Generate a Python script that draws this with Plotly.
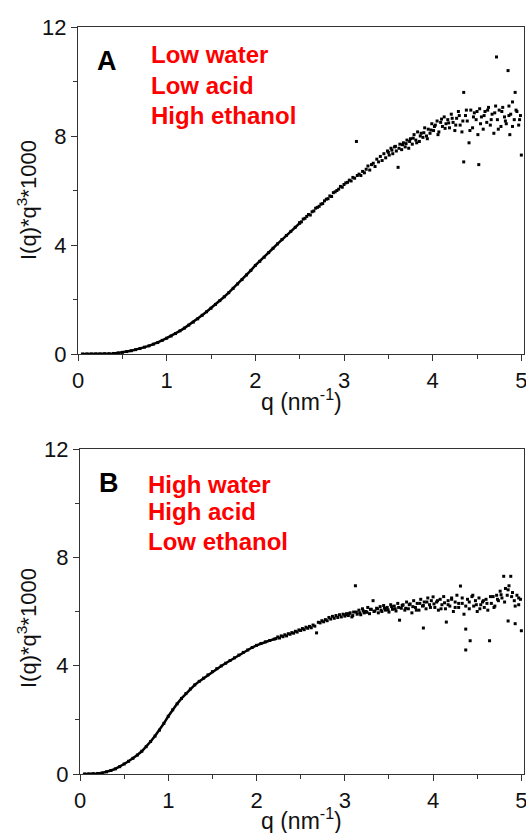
import plotly.graph_objects as go

# ---------------- Panel A data ----------------
qa_dense = [0.05, 0.10, 0.15, 0.20, 0.25, 0.30, 0.35, 0.40, 0.45, 0.50, 0.55, 0.60, 0.65, 0.70, 0.75,
            0.80, 0.85, 0.90, 0.95, 1.00, 1.05, 1.10, 1.15, 1.20, 1.25, 1.30, 1.35, 1.40, 1.45, 1.50,
            1.55, 1.60, 1.65, 1.70, 1.75, 1.80, 1.85, 1.90, 1.95, 2.00, 2.05, 2.10, 2.15, 2.20, 2.25,
            2.30, 2.35, 2.40, 2.45, 2.50]
ia_dense = [0.00, 0.00, 0.00, 0.00, 0.00, 0.01, 0.01, 0.02, 0.04, 0.06, 0.09, 0.12, 0.16, 0.20, 0.25,
            0.30, 0.36, 0.42, 0.50, 0.58, 0.66, 0.75, 0.85, 0.95, 1.06, 1.17, 1.29, 1.42, 1.55, 1.68,
            1.82, 1.96, 2.10, 2.25, 2.41, 2.57, 2.73, 2.90, 3.07, 3.25, 3.40, 3.55, 3.72, 3.88, 4.04,
            4.20, 4.35, 4.50, 4.65, 4.80]

qa_scat = [2.50, 2.52, 2.54, 2.56, 2.58, 2.60, 2.62, 2.64, 2.66, 2.68, 2.70, 2.72, 2.74, 2.76, 2.78,
           2.80, 2.82, 2.84, 2.86, 2.88, 2.90, 2.92, 2.94, 2.96, 2.98, 3.00, 3.02, 3.04, 3.06, 3.08,
           3.10, 3.12, 3.14, 3.15, 3.17, 3.19, 3.21, 3.23, 3.25, 3.27, 3.29, 3.31, 3.33, 3.35, 3.37,
           3.39, 3.41, 3.43, 3.45, 3.47, 3.49, 3.51, 3.53, 3.55, 3.57, 3.59, 3.61, 3.63, 3.65, 3.67,
           3.69, 3.71, 3.73, 3.75, 3.77, 3.79, 3.81, 3.83, 3.85, 3.87, 3.89, 3.91, 3.93, 3.95, 3.97,
           3.99, 4.01, 4.03, 4.05, 4.07, 4.09, 4.11, 4.13, 4.15, 4.17, 4.19, 4.21, 4.23, 4.25, 4.27,
           4.29, 4.31, 4.33, 4.35, 4.35, 4.37, 4.39, 4.41, 4.43, 4.45, 4.47, 4.49, 4.51, 4.52, 4.53,
           4.55, 4.57, 4.59, 4.61, 4.63, 4.65, 4.67, 4.69, 4.71, 4.72, 4.73, 4.75, 4.77, 4.79, 4.81,
           4.83, 4.85, 4.86, 4.87, 4.88, 4.90, 4.92, 4.93, 4.95, 4.97, 4.99, 5.00]
ia_scat = [4.82, 4.85, 4.95, 4.98, 5.05, 5.12, 5.10, 5.22, 5.25, 5.35, 5.38, 5.42, 5.50, 5.52, 5.62,
           5.68, 5.70, 5.80, 5.78, 5.92, 5.95, 6.00, 6.05, 6.15, 6.12, 6.22, 6.28, 6.30, 6.38, 6.35,
           6.48, 6.45, 7.80, 6.55, 6.60, 6.55, 6.70, 6.65, 6.78, 6.90, 6.75, 6.95, 7.00, 6.88, 7.15,
           7.05, 7.25, 7.10, 7.35, 7.20, 7.45, 7.30, 7.55, 7.35, 7.60, 7.45, 6.85, 7.70, 7.50, 7.75,
           7.60, 7.85, 7.55, 7.90, 7.70, 8.05, 7.85, 8.15, 7.80, 8.10, 7.95, 8.30, 8.00, 8.25, 8.10,
           8.45, 8.20, 8.40, 8.55, 8.15, 8.50, 8.35, 8.70, 8.45, 8.60, 8.30, 8.80, 8.50, 8.20, 8.65,
           8.90, 8.40, 8.15, 9.60, 7.05, 8.75, 8.55, 7.75, 8.95, 8.30, 8.85, 8.60, 8.05, 6.95, 9.00,
           8.70, 8.25, 8.90, 8.50, 9.05, 8.40, 8.80, 8.10, 9.10, 10.90, 8.60, 8.95, 8.35, 9.05, 8.70,
           8.45, 10.40, 9.10, 8.05, 8.80, 9.25, 8.60, 9.60, 8.90, 8.40, 8.75, 7.30]

qa_extra = [3.50, 3.54, 3.58, 3.62, 3.66, 3.70, 3.74, 3.78, 3.82, 3.86, 3.90, 3.94, 3.98, 4.02, 4.06,
            4.10, 4.14, 4.18, 4.22, 4.26, 4.30, 4.34, 4.38, 4.42, 4.46, 4.50, 4.54, 4.58, 4.62, 4.66,
            4.70, 4.74, 4.78, 4.82, 4.86, 4.90, 4.94, 4.98]
ia_extra = [7.40, 7.48, 7.62, 7.55, 7.68, 7.72, 7.80, 7.92, 7.75, 8.00, 8.12, 7.90, 8.22, 8.35, 8.05,
            8.62, 8.28, 8.48, 8.65, 8.40, 8.75, 8.55, 8.95, 8.20, 8.70, 8.90, 8.45, 8.75, 8.95, 8.60,
            8.85, 8.25, 8.90, 8.55, 8.75, 8.35, 8.95, 8.60]

# ---------------- Panel B data ----------------
qb_dense = [0.05, 0.10, 0.15, 0.20, 0.25, 0.30, 0.35, 0.40, 0.45, 0.50, 0.55, 0.60, 0.65, 0.70, 0.75,
            0.80, 0.85, 0.90, 0.95, 1.00, 1.05, 1.10, 1.15, 1.20, 1.25, 1.30, 1.35, 1.40, 1.45, 1.50,
            1.55, 1.60, 1.65, 1.70, 1.75, 1.80, 1.85, 1.90, 1.95, 2.00, 2.05, 2.10, 2.15, 2.20]
ib_dense = [0.00, 0.00, 0.01, 0.02, 0.04, 0.08, 0.13, 0.19, 0.27, 0.37, 0.47, 0.58, 0.70, 0.84, 1.01,
            1.20, 1.40, 1.62, 1.87, 2.13, 2.37, 2.59, 2.79, 2.97, 3.14, 3.29, 3.42, 3.54, 3.66, 3.78,
            3.89, 3.99, 4.09, 4.19, 4.29, 4.39, 4.49, 4.58, 4.67, 4.75, 4.82, 4.88, 4.93, 4.98]

qb_scat = [2.22, 2.24, 2.26, 2.28, 2.30, 2.32, 2.34, 2.36, 2.38, 2.40, 2.42, 2.44, 2.46, 2.48, 2.50,
           2.52, 2.54, 2.56, 2.58, 2.60, 2.62, 2.64, 2.66, 2.68, 2.70, 2.72, 2.74, 2.76, 2.78, 2.80,
           2.82, 2.84, 2.86, 2.88, 2.90, 2.92, 2.94, 2.96, 2.98, 3.00, 3.02, 3.04, 3.06, 3.08, 3.10,
           3.12, 3.14, 3.16, 3.18, 3.20, 3.22, 3.24, 3.26, 3.28, 3.30, 3.32, 3.34, 3.36, 3.38, 3.40,
           3.42, 3.44, 3.46, 3.48, 3.50, 3.52, 3.54, 3.56, 3.58, 3.60, 3.62, 3.64, 3.66, 3.68, 3.70,
           3.72, 3.74, 3.76, 3.78, 3.80, 3.82, 3.84, 3.86, 3.88, 3.89, 3.90, 3.92, 3.94, 3.96, 3.98,
           4.00, 4.02, 4.04, 4.06, 4.08, 4.10, 4.12, 4.14, 4.15, 4.17, 4.19, 4.21, 4.23, 4.25, 4.27,
           4.29, 4.31, 4.33, 4.35, 4.37, 4.37, 4.39, 4.41, 4.42, 4.44, 4.46, 4.48, 4.50, 4.52, 4.54,
           4.56, 4.58, 4.60, 4.62, 4.64, 4.66, 4.68, 4.70, 4.72, 4.74, 4.76, 4.78, 4.80, 4.82, 4.84,
           4.85, 4.86, 4.88, 4.90, 4.92, 4.93, 4.95, 4.97, 4.99, 5.00]
ib_scat = [5.00, 5.06, 5.02, 5.10, 5.07, 5.14, 5.10, 5.18, 5.16, 5.22, 5.20, 5.27, 5.24, 5.32, 5.30,
           5.37, 5.33, 5.42, 5.38, 5.45, 5.40, 5.50, 5.46, 5.21, 5.60, 5.58, 5.66, 5.62, 5.70, 5.66,
           5.78, 5.72, 5.82, 5.75, 5.85, 5.78, 5.88, 5.80, 5.90, 5.83, 5.92, 5.85, 5.95, 5.80, 5.98,
           6.95, 5.90, 6.05, 5.88, 6.10, 5.95, 6.00, 6.15, 5.92, 6.08, 6.40, 6.02, 6.12, 5.95, 6.18,
           6.00, 6.22, 6.05, 6.15, 5.98, 6.25, 6.08, 6.20, 6.02, 6.30, 5.68, 6.12, 6.25, 6.05, 6.35,
           6.10, 6.28, 5.95, 6.40, 6.15, 6.30, 6.05, 6.45, 6.20, 5.39, 6.35, 6.10, 6.50, 6.25, 6.40,
           6.54, 6.15, 6.35, 6.05, 6.45, 6.25, 6.55, 6.10, 5.61, 6.40, 6.20, 6.50, 6.00, 6.35, 6.60,
           6.15, 6.94, 6.30, 5.90, 4.58, 5.35, 6.45, 6.10, 4.92, 6.55, 6.20, 6.40, 6.00, 6.50, 6.25,
           6.35, 6.15, 6.45, 6.05, 4.92, 6.30, 6.55, 6.20, 6.60, 6.40, 6.75, 6.50, 7.30, 6.85, 6.60,
           5.65, 6.95, 7.30, 6.70, 6.40, 5.55, 6.60, 6.25, 6.45, 5.29]

qb_extra = [3.01, 3.05, 3.09, 3.13, 3.17, 3.21, 3.25, 3.29, 3.33, 3.37, 3.41, 3.45, 3.49, 3.53, 3.57,
            3.61, 3.65, 3.69, 3.73, 3.77, 3.81, 3.85, 3.89, 3.93, 3.97, 4.01, 4.05, 4.09, 4.13, 4.17,
            4.21, 4.25, 4.29, 4.33, 4.37, 4.41, 4.45, 4.49, 4.53, 4.57, 4.61, 4.65, 4.69, 4.73, 4.77,
            4.81, 4.85, 4.89, 4.93, 4.97]
ib_extra = [5.88, 5.92, 5.85, 5.98, 5.95, 6.02, 5.97, 6.08, 6.00, 6.10, 6.05, 6.12, 6.06, 6.18, 6.10,
            6.15, 6.22, 6.12, 6.25, 6.18, 6.05, 6.30, 6.22, 6.35, 6.15, 6.28, 6.40, 6.10, 6.32, 6.25,
            6.45, 6.15, 6.30, 6.50, 6.20, 6.35, 6.60, 6.25, 6.10, 6.40, 6.30, 6.55, 6.15, 6.45, 6.62,
            6.35, 6.80, 6.55, 6.20, 6.50]

x_ticks = [0, 1, 2, 3, 4, 5]
y_ticks = [0, 4, 8, 12]
labels_a = ["Low water", "Low acid", "High ethanol"]
labels_b = ["High water", "High acid", "Low ethanol"]

W, H = 526, 833
FONT = "Liberation Sans, Arial, sans-serif"

def px_x(p):
    return p / W

def px_y(p):
    return 1 - p / H

fig = go.Figure()

mk = dict(color="black", size=3, symbol="square")
for xs, ys, xa_name, ya_name, mode in [
    (qa_dense, ia_dense, "x", "y", "lines+markers"),
    (qa_scat, ia_scat, "x", "y", "markers"),
    (qa_extra, ia_extra, "x", "y", "markers"),
    (qb_dense, ib_dense, "x2", "y2", "lines+markers"),
    (qb_scat, ib_scat, "x2", "y2", "markers"),
    (qb_extra, ib_extra, "x2", "y2", "markers"),
]:
    fig.add_trace(go.Scatter(x=xs, y=ys, mode=mode, marker=mk,
                             line=dict(color="black", width=2.5),
                             xaxis=xa_name, yaxis=ya_name, showlegend=False))

axis_common = dict(showline=True, linecolor="#333", linewidth=1.2, mirror=True, showgrid=False,
                   zeroline=False, ticks="outside", ticklen=6, tickwidth=1.2, tickcolor="#333",
                   automargin=False, ticklabeloverflow="allow",
                   tickfont=dict(family=FONT, size=22, color="#111"))

xa = dict(axis_common, range=[0, 5.03], tickvals=x_ticks,
          minor=dict(tickvals=[0.5, 1.5, 2.5, 3.5, 4.5], ticks="outside", ticklen=4, tickcolor="#333"))
ya = dict(axis_common, range=[0, 12], tickvals=y_ticks,
          minor=dict(tickvals=[2, 6, 10], ticks="outside", ticklen=4, tickcolor="#333"))

fig.update_layout(
    width=W, height=H, margin=dict(l=0, r=0, t=0, b=0, autoexpand=False),
    paper_bgcolor="white", plot_bgcolor="white",
    xaxis=dict(xa, domain=[px_x(78), px_x(524)], anchor="y"),
    yaxis=dict(ya, domain=[px_y(354), px_y(27)], anchor="x"),
    xaxis2=dict(xa, domain=[px_x(80), px_x(524)], anchor="y2"),
    yaxis2=dict(ya, domain=[px_y(774), px_y(449)], anchor="x2"),
)

ann = []
# axis titles
for cy, ty in [(200, 400), (628, 819)]:
    ann.append(dict(text="I(q)*q<sup>3</sup>*1000", x=px_x(27), y=px_y(cy), xref="paper", yref="paper",
                    textangle=-90, showarrow=False, font=dict(family=FONT, size=22, color="#111"),
                    xanchor="center", yanchor="middle"))
    ann.append(dict(text="q (nm<sup>-1</sup>)", x=px_x(301), y=px_y(ty), xref="paper", yref="paper",
                    showarrow=False, font=dict(family=FONT, size=23, color="#111"),
                    xanchor="center", yanchor="middle"))
# panel letters
ann.append(dict(text="<b>A</b>", x=px_x(107), y=px_y(61), xref="paper", yref="paper", showarrow=False,
                font=dict(family=FONT, size=27, color="black"), xanchor="center", yanchor="middle"))
ann.append(dict(text="<b>B</b>", x=px_x(109), y=px_y(483), xref="paper", yref="paper", showarrow=False,
                font=dict(family=FONT, size=27, color="black"), xanchor="center", yanchor="middle"))
# red condition labels
for txt, cy in zip(labels_a, [55, 85, 115]):
    ann.append(dict(text="<b>%s</b>" % txt, x=px_x(149), y=px_y(cy), xref="paper", yref="paper",
                    showarrow=False, font=dict(family=FONT, size=24, color="#ff0000"),
                    xanchor="left", yanchor="middle"))
for txt, cy in zip(labels_b, [484, 512, 541]):
    ann.append(dict(text="<b>%s</b>" % txt, x=px_x(146), y=px_y(cy), xref="paper", yref="paper",
                    showarrow=False, font=dict(family=FONT, size=24, color="#ff0000"),
                    xanchor="left", yanchor="middle"))
fig.update_layout(annotations=ann)

fig.write_html("out.html")
